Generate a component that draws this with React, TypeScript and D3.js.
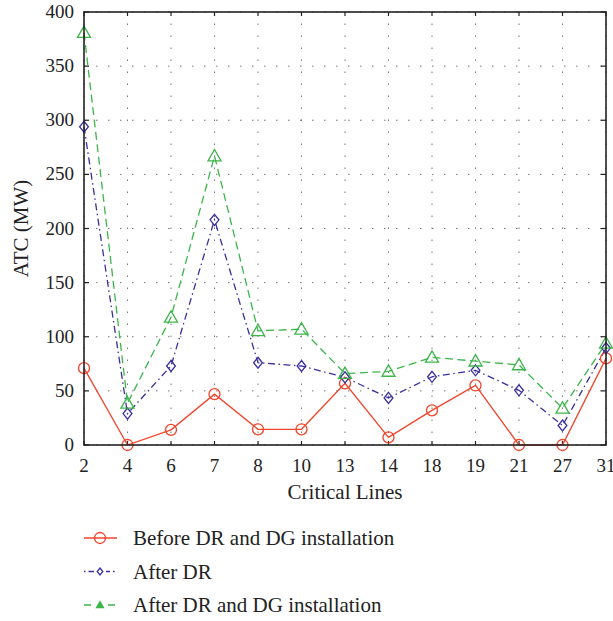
import React from "react";
import * as d3 from "d3";

const categories = ["2", "4", "6", "7", "8", "10", "13", "14", "18", "19", "21", "27", "31"];
const beforeValues = [71, 0, 14, 47, 14.5, 14.5, 57, 7, 32, 55, 0, 0, 80];
const afterDRValues = [294, 29, 73, 208, 76, 73, 62.5, 43.5, 63, 69, 50.5, 18, 89.5];
const afterDRDGValues = [381, 38.5, 118, 267, 105.5, 107, 66, 68, 81, 77.5, 74, 34, 94];
const yTicks = [0, 50, 100, 150, 200, 250, 300, 350, 400];
const seriesNames = ["Before DR and DG installation", "After DR", "After DR and DG installation"];

const W = 613, H = 621;
const left = 84, right = 606, top = 12, bottom = 445;
const FONT = "'Liberation Serif', 'DejaVu Serif', serif";

const RED = "#f1452c";
const BLUE = "#3a2f9e";
const GREEN = "#3cb54a";

export default function App() {
  const x = d3.scalePoint<string>().domain(categories).range([left, right]);
  const y = d3.scaleLinear().domain([0, 400]).range([bottom, top]);

  const mk = (vals: number[]) =>
    d3.line<number>().x((_, i) => x(categories[i]) as number).y((v) => y(v))(vals) || "";

  const circle = (cx: number, cy: number, k: string) => (
    <circle key={k} cx={cx} cy={cy} r={5.5} fill="none" stroke={RED} strokeWidth={1.3} />
  );
  const diamond = (cx: number, cy: number, k: string, s = 5.5, fill = "none") => (
    <path key={k} d={`M${cx},${cy - s}L${cx + s * 0.8},${cy}L${cx},${cy + s}L${cx - s * 0.8},${cy}Z`} fill={fill} stroke={BLUE} strokeWidth={1.3} />
  );
  const tri = (cx: number, cy: number, k: string, s = 6.5, fill = "none") => (
    <path key={k} d={`M${cx},${cy - s}L${cx + s},${cy + s * 0.75}L${cx - s},${cy + s * 0.75}Z`} fill={fill} stroke={GREEN} strokeWidth={1.3} />
  );

  return (
    <svg width={W} height={H} style={{ position: "absolute", left: 0, top: 0, background: "#fff" }} fontFamily={FONT}>
      {/* grid */}
      <g stroke="#777" strokeWidth={1} strokeDasharray="1.5 10.5">
        {categories.map((c) => (
          <line key={"gx" + c} x1={x(c)} x2={x(c)} y1={bottom} y2={top} />
        ))}
        {yTicks.map((t) => (
          <line key={"gy" + t} x1={left} x2={right} y1={y(t)} y2={y(t)} />
        ))}
      </g>
      {/* ticks */}
      <g stroke="#222" strokeWidth={1.2}>
        {categories.map((c) => (
          <g key={"t" + c}>
            <line x1={x(c)} x2={x(c)} y1={bottom} y2={bottom - 4} />
            <line x1={x(c)} x2={x(c)} y1={top} y2={top + 4} />
          </g>
        ))}
        {yTicks.map((t) => (
          <g key={"ty" + t}>
            <line x1={left} x2={left + 5} y1={y(t)} y2={y(t)} />
            <line x1={right} x2={right - 5} y1={y(t)} y2={y(t)} />
          </g>
        ))}
      </g>
      {/* lines */}
      <path d={mk(beforeValues)} fill="none" stroke={RED} strokeWidth={1.3} />
      <path d={mk(afterDRValues)} fill="none" stroke={BLUE} strokeWidth={1.3} strokeDasharray="7 3.5 1.5 3.5" />
      <path d={mk(afterDRDGValues)} fill="none" stroke={GREEN} strokeWidth={1.3} strokeDasharray="8 4.5" />
      {beforeValues.map((v, i) => circle(x(categories[i]) as number, y(v), "c" + i))}
      {afterDRValues.map((v, i) => diamond(x(categories[i]) as number, y(v), "d" + i))}
      {afterDRDGValues.map((v, i) => tri(x(categories[i]) as number, y(v), "t" + i))}
      {/* frame */}
      <rect x={left} y={top} width={right - left} height={bottom - top} fill="none" stroke="#222" strokeWidth={1.6} />
      {/* tick labels */}
      <g fontSize={19} fill="#222">
        {categories.map((c) => (
          <text key={"xl" + c} x={x(c)} y={bottom + 27} textAnchor="middle">{c}</text>
        ))}
        {yTicks.map((t) => (
          <text key={"yl" + t} x={left - 10} y={y(t) + 6} textAnchor="end">{t}</text>
        ))}
      </g>
      <text x={(left + right) / 2} y={499} textAnchor="middle" fontSize={21} fill="#222">Critical Lines</text>
      <text transform={`translate(28,${(top + bottom) / 2}) rotate(-90)`} textAnchor="middle" fontSize={21} fill="#222">ATC (MW)</text>
      {/* legend */}
      {seriesNames.map((name, i) => {
        const ly = 538 + i * 33.5;
        const color = [RED, BLUE, GREEN][i];
        const dash = ["", "1.5 3 7 3", "7 5"][i];
        return (
          <g key={"lg" + i}>
            <line x1={84} x2={117} y1={ly} y2={ly} stroke={color} strokeWidth={1.3} strokeDasharray={dash || undefined} />
            {i === 0 && circle(100, ly, "lc")}
            {i === 1 && (
              <>
                <rect x={94} y={ly - 3} width={12} height={6} fill="#fff" />
                {diamond(100, ly, "ld", 3.5)}
              </>
            )}
            {i === 2 && (
              <>
                <rect x={94} y={ly - 4} width={12} height={8} fill="#fff" />
                {tri(100, ly, "lt", 3.5, GREEN)}
              </>
            )}
            <text x={133} y={ly + 7} fontSize={21} fill="#222">{name}</text>
          </g>
        );
      })}
    </svg>
  );
}
